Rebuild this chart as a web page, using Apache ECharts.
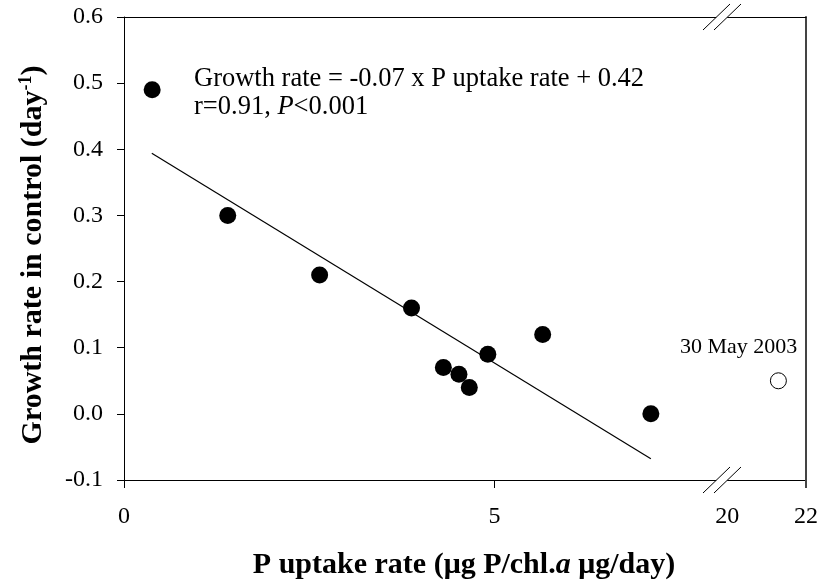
<!DOCTYPE html>
<html><head><meta charset="utf-8">
<script src="https://cdn.jsdelivr.net/npm/echarts@6/dist/echarts.min.js"></script>
<style>html,body{margin:0;padding:0;background:#fff}#c{width:822px;height:588px}</style>
</head><body><div id="c"></div>
<script>
// Data
const uptakeX = [0.38, 1.40, 2.64, 3.88, 4.31, 4.52, 4.66, 4.91, 5.65, 7.11];
const growthY = [0.49, 0.30, 0.21, 0.16, 0.07, 0.06, 0.04, 0.09, 0.12, 0.00];
const outlierX = [21.3];
const outlierY = [0.05];
const outlierLabel = '30 May 2003';
const fitX = [0.375, 7.11];
const fitY = [0.394, -0.068];
const yTicks = [-0.1, 0.0, 0.1, 0.2, 0.3, 0.4, 0.5, 0.6];
const xTicksLeft = [0, 5];
const xTicksRight = [20, 22];
const eqLine1 = 'Growth rate = -0.07 x P uptake rate + 0.42';

const FONT = 'Liberation Serif';
const chart = echarts.init(document.getElementById('c'), null, {renderer: 'canvas'});
const axisCommon = {lineStyle: {color: '#000', width: 1}};
const labelStyle = {color: '#000', fontFamily: FONT, fontSize: 24};

const opt = {
  animation: false,
  backgroundColor: '#fff',
  grid: [
    {left: 124, top: 17, width: 598, height: 463},
    {left: 722, top: 17, width: 84, height: 463}
  ],
  xAxis: [
    {gridIndex: 0, type: 'value', min: 0, max: 8.07, position: 'bottom',
     axisLine: {show: true, onZero: false, lineStyle: axisCommon.lineStyle},
     axisTick: {show: true, length: 8, customValues: xTicksLeft, lineStyle: axisCommon.lineStyle},
     axisLabel: Object.assign({customValues: xTicksLeft, margin: 25, formatter: v => String(v)}, labelStyle),
     splitLine: {show: false}},
    {gridIndex: 1, type: 'value', min: 19.87, max: 22, position: 'bottom',
     axisLine: {show: true, onZero: false, lineStyle: axisCommon.lineStyle},
     axisTick: {show: true, length: 8, customValues: [22], lineStyle: {color: '#444', width: 2}},
     axisLabel: Object.assign({customValues: xTicksRight, margin: 25, formatter: v => String(v)}, labelStyle),
     splitLine: {show: false}},
    {gridIndex: 0, type: 'value', min: 0, max: 8.07, position: 'top',
     axisLine: {show: true, onZero: false, lineStyle: axisCommon.lineStyle},
     axisTick: {show: false}, axisLabel: {show: false}, splitLine: {show: false}},
    {gridIndex: 1, type: 'value', min: 19.87, max: 22, position: 'top',
     axisLine: {show: true, onZero: false, lineStyle: axisCommon.lineStyle},
     axisTick: {show: false}, axisLabel: {show: false}, splitLine: {show: false}}
  ],
  yAxis: [
    {gridIndex: 0, type: 'value', min: -0.1, max: 0.6, interval: 0.1, position: 'left',
     axisLine: {show: true, onZero: false, lineStyle: axisCommon.lineStyle},
     axisTick: {show: true, length: 7, lineStyle: axisCommon.lineStyle},
     axisLabel: Object.assign({margin: 21, formatter: v => v.toFixed(1)}, labelStyle),
     splitLine: {show: false}},
    {gridIndex: 1, type: 'value', min: -0.1, max: 0.6, interval: 0.1, position: 'right',
     axisLine: {show: true, onZero: false, lineStyle: {color: '#444', width: 2}},
     axisTick: {show: false}, axisLabel: {show: false}, splitLine: {show: false}}
  ],
  series: [
    {type: 'line', xAxisIndex: 0, yAxisIndex: 0, data: fitX.map((x, i) => [x, fitY[i]]),
     symbol: 'none', lineStyle: {color: '#000', width: 1.2}, z: 2},
    {type: 'scatter', xAxisIndex: 0, yAxisIndex: 0, data: uptakeX.map((x, i) => [x, growthY[i]]),
     symbol: 'circle', symbolSize: 17, itemStyle: {color: '#000', opacity: 1}, z: 3},
    {type: 'scatter', xAxisIndex: 1, yAxisIndex: 1, data: outlierX.map((x, i) => [x, outlierY[i]]),
     symbol: 'circle', symbolSize: 16, itemStyle: {color: '#fff', borderColor: '#000', borderWidth: 1, opacity: 1}, z: 3,
     label: {show: true, position: [-90, -36], formatter: outlierLabel, color: '#000', fontFamily: FONT, fontSize: 22}}
  ],
  graphic: []
};
chart.setOption(opt);

// decorations: axis titles, equation text, break marks
const bx = 722, yTop = 17, yBot = 480;
function breakMarks(yc) {
  const els = [];
  els.push({type: 'polygon', shape: {points: [[bx - 13, yc + 13], [bx - 2, yc + 13], [bx + 13, yc - 13], [bx + 2, yc - 13]]},
            style: {fill: '#fff'}, z: 100});
  els.push({type: 'line', shape: {x1: bx - 19, y1: yc + 13, x2: bx + 8, y2: yc - 13}, style: {stroke: '#000', lineWidth: 1}, z: 101});
  els.push({type: 'line', shape: {x1: bx - 8, y1: yc + 13, x2: bx + 19, y2: yc - 13}, style: {stroke: '#000', lineWidth: 1}, z: 101});
  return els;
}
chart.setOption({graphic: [
  ...breakMarks(yTop), ...breakMarks(yBot),
  {type: 'text', left: 194, top: 66, z: 50,
   style: {text: eqLine1, fill: '#000', font: '26.5px "' + FONT + '"'}},
  {type: 'text', left: 194, top: 94, z: 50,
   style: {text: '{n|r=0.91, }{i|P}{n|<0.001}', fill: '#000',
           rich: {n: {fontFamily: FONT, fontSize: 26.5, fill: '#000'},
                  i: {fontFamily: FONT, fontSize: 26.5, fontStyle: 'italic', fill: '#000'}}}},
  {type: 'text', x: 464, y: 565, z: 50,
   style: {text: '{b|P uptake rate (μg P/chl.}{bi|a}{b| μg/day)}', align: 'center', verticalAlign: 'middle',
           rich: {b: {fontFamily: FONT, fontSize: 30, fontWeight: 'bold', fill: '#000'},
                  bi: {fontFamily: FONT, fontSize: 30, fontWeight: 'bold', fontStyle: 'italic', fill: '#000'}}}},
  {type: 'text', x: 33, y: 255, rotation: Math.PI / 2, z: 50,
   style: {text: '{b|Growth rate in control (day}{s|-1}{b|)}', align: 'center', verticalAlign: 'middle',
           rich: {b: {fontFamily: FONT, fontSize: 30, fontWeight: 'bold', fill: '#000'},
                  s: {fontFamily: FONT, fontSize: 18, fontWeight: 'bold', fill: '#000', verticalAlign: 'top', padding: [0, 0, 14, 0]}}}}
]});
</script></body></html>
